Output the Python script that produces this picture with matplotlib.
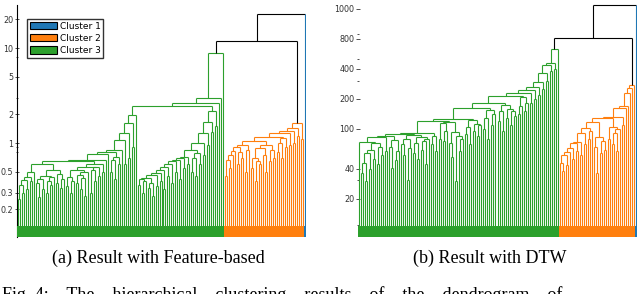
import numpy as np
import matplotlib
matplotlib.use("Agg")
import matplotlib.pyplot as plt
from matplotlib.collections import LineCollection
from matplotlib.patches import Rectangle, Patch
from matplotlib.ticker import NullFormatter
from matplotlib.transforms import blended_transform_factory

GREEN, ORANGE, BLUE = "#2ca02c", "#ff7f0e", "#1f77b4"
CLUSTER_COLORS = {1: BLUE, 2: ORANGE, 3: GREEN}

# merge height between each pair of neighbouring leaves (left to right)
# (a) feature-based distances
feat_green = [
    0.26, 0.36, 0.30, 0.41, 0.33, 0.44, 0.40, 0.50,
    0.60,
    0.38, 0.27, 0.42, 0.33, 0.45, 0.30, 0.40, 0.36, 0.44,
    0.52,
    0.38, 0.47, 0.34, 0.42,
    0.64,
    0.35, 0.44, 0.30, 0.40, 0.52, 0.38, 0.46, 0.33, 0.43, 0.28, 0.50,
    0.56,
    0.30, 0.52, 0.40, 0.56, 0.45, 0.60, 0.50, 0.66, 0.76,
    0.80,
    0.50, 0.66, 0.42, 0.72, 0.60,
    0.84,
    1.07, 0.60, 1.27, 0.70, 1.62, 0.90, 1.97,
    2.45,
    0.36, 0.42, 0.30, 0.40, 0.43, 0.34, 0.38, 0.28, 0.46, 0.35, 0.48, 0.40, 0.52,
    0.33, 0.56, 0.45, 0.60, 0.38, 0.64, 0.50, 0.66, 0.42, 0.70, 0.55, 0.72, 0.60,
    0.84,
    0.50, 0.70, 0.45, 0.79, 0.60, 1.00, 0.75, 1.27, 0.95, 1.66, 1.30,
    2.15, 1.50, 2.65, 3.00, 8.90,
]
feat_orange = [
    0.45, 0.66, 0.55, 0.75, 0.82,
    0.90,
    0.60, 0.80, 0.70, 0.95, 0.50, 0.85,
    1.05,
    0.55, 0.70, 0.40, 0.65, 0.60,
    0.89,
    0.75, 0.50, 0.95, 0.65, 0.85, 0.70,
    1.16,
    0.80, 1.00, 0.70, 1.13, 0.90, 1.27, 0.95, 1.35, 1.00, 1.43, 1.20, 1.62, 1.10,
]
feat_links = [11.8, 22.8]  # green|orange, orange|blue

# (b) DTW distances
dtw_green = [
    74, 36, 46, 30, 57, 40, 62, 50, 72, 45, 66, 55, 83, 60,
    85,
    66, 41, 78, 49, 60,
    89,
    70, 55, 80, 31, 65, 87, 58, 72, 50, 84, 62, 75, 45, 80,
    91,
    70, 85, 60,
    121,
    80, 115, 75, 95,
    118,
    72, 53, 93, 30, 85, 60, 80,
    125,
    90, 105, 70, 122, 95, 112, 85, 110,
    162,
    100, 130, 80, 155, 110, 140,
    180,
    120, 150, 95, 174, 130, 160, 110, 150, 135,
    215,
    140, 170, 209, 150, 180,
    230, 180, 245, 200, 263, 220, 296, 250, 363, 300, 437, 380, 457, 400, 631,
]
dtw_orange = [
    46, 38, 55, 44, 59, 65, 50, 72,
    60, 74, 55, 91, 70, 102,
    80, 95, 118,
    66, 36, 83, 58, 75, 62, 129,
    80, 105, 70, 91, 60, 100, 132,
    110, 162, 170, 229, 257, 275,
]
dtw_links = [813, 1738]

cluster_names = ["Cluster 1", "Cluster 2", "Cluster 3"]


def leaves(green, orange, links):
    gaps = list(green) + [links[0]] + list(orange) + [links[1]]
    labels = [3] * (len(green) + 1) + [2] * (len(orange) + 1) + [1]
    return gaps, labels


def draw_tree(ax, gaps, labels, base):
    segs, cols = [], []

    def rec(lo, hi):
        if lo == hi:
            return lo, base, CLUSTER_COLORS[labels[lo]], True
        k = lo + int(np.argmax(gaps[lo:hi]))
        h = gaps[k]
        xl, hl, cl, leaf_l = rec(lo, k)
        xr, hr, cr, leaf_r = rec(k + 1, hi)
        pure = len(set(labels[lo:hi + 1])) == 1
        c = CLUSTER_COLORS[labels[lo]] if pure else "black"
        segs.append([(xl, hl), (xl, h)])
        cols.append(cl if leaf_l else c)
        segs.append([(xl, h), (xr, h)])
        cols.append(c)
        segs.append([(xr, hr), (xr, h)])
        cols.append(cr if leaf_r else c)
        return (xl + xr) / 2, h, c, False

    rec(0, len(labels) - 1)
    ax.add_collection(LineCollection(segs, colors=cols, linewidths=0.8))

    # cluster colour band under the leaves
    trans = blended_transform_factory(ax.transData, ax.transAxes)
    start = 0
    for i in range(1, len(labels) + 1):
        if i == len(labels) or labels[i] != labels[start]:
            ax.add_patch(Rectangle((start - 0.5, 0), i - start, 0.047, transform=trans,
                                   color=CLUSTER_COLORS[labels[start]], lw=0, zorder=5))
            start = i
    ax.set_xlim(-0.5, len(labels) - 0.5)
    ax.set_xticks([])


fig = plt.figure(figsize=(6.4, 2.94), dpi=100)
ax_a = fig.add_axes([17 / 640, 57 / 294, 289 / 640, 232 / 294])
ax_b = fig.add_axes([358 / 640, 57 / 294, 279 / 640, 235 / 294])

for ax in (ax_a, ax_b):
    ax.set_yscale("log")
    for s in ("top", "right", "bottom"):
        ax.spines[s].set_visible(False)
    ax.tick_params(axis="y", which="major", direction="inout", length=2.5, width=0.6, pad=1.5,
                   labelsize=5.8, labelcolor="#333333", color="#333333")
    ax.tick_params(axis="y", which="minor", direction="inout", length=1.5, width=0.6,
                   color="#333333")

# (a)
gaps, labels = leaves(feat_green, feat_orange, feat_links)
ax_a.set_ylim(0.1025, 28.4)
draw_tree(ax_a, gaps, labels, 0.1025)
ax_a.spines["left"].set_color("black")
ax_a.spines["left"].set_linewidth(0.8)
ax_a.set_yticks([0.2, 0.3, 0.5, 1, 2, 5, 10, 20], ["0.2", "0.3", "0.5", "1", "2", "5", "10", "20"])
ax_a.set_yticks([0.8, 0.9, 3, 8], minor=True)
ax_a.yaxis.set_minor_formatter(NullFormatter())
handles = [Patch(facecolor=c, edgecolor="black", linewidth=0.8, label=n)
           for c, n in zip([BLUE, ORANGE, GREEN], cluster_names)]
ax_a.legend(handles=handles, loc="upper left", bbox_to_anchor=(0.035, 0.94), borderaxespad=0,
            fontsize=6.5, handlelength=3.0, handleheight=0.9, labelspacing=0.35,
            handletextpad=0.3, borderpad=0.3, frameon=True, fancybox=False,
            edgecolor="#333333", framealpha=1)

# (b)
gaps, labels = leaves(dtw_green, dtw_orange, dtw_links)
ax_b.set_ylim(8.3, 1862)
draw_tree(ax_b, gaps, labels, 8.3)
ax_b.spines["left"].set_visible(False)
ax_b.set_yticks([20, 40, 100, 200, 400, 800, 1600], ["20", "40", "100", "200", "400", "800", "1000"])
ax_b.set_yticks([11, 31, 300, 500, 900], minor=True)
ax_b.yaxis.set_minor_formatter(NullFormatter())

fig.text(158 / 640, 1 - 258 / 294, "(a) Result with Feature-based", family="Liberation Serif",
         fontsize=13, ha="center", va="center")
fig.text(490 / 640, 1 - 258 / 294, "(b) Result with DTW", family="Liberation Serif",
         fontsize=13, ha="center", va="center")
fig.text(2 / 640, -0.02, "Fig. 4:    The    hierarchical    clustering    results    of    the    dendrogram    of",
         family="Liberation Serif", fontsize=13, ha="left", va="baseline")

fig.savefig("out.png", dpi=100)
